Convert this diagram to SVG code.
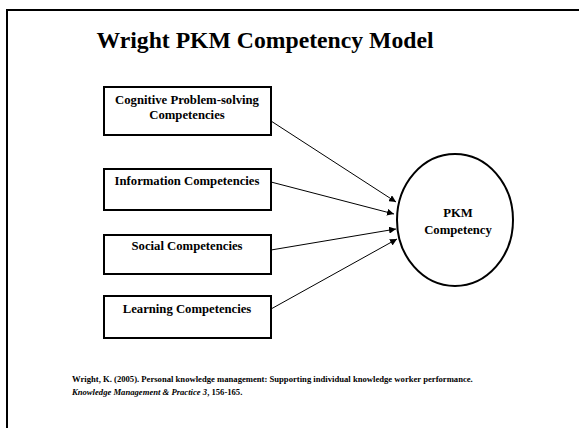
<svg xmlns="http://www.w3.org/2000/svg" width="579" height="428" viewBox="0 0 579 428">
<defs>
<style>
.frame{stroke:#000;stroke-width:2;fill:none}
.box{fill:#fff;stroke:#000;stroke-width:2}
.lbl{font-family:"Liberation Serif",serif;font-weight:bold;font-size:12.7px;fill:#000;text-anchor:middle}
.conn{stroke:#000;stroke-width:1;fill:none;marker-end:url(#ah)}
.ref{font-family:"Liberation Serif",serif;font-weight:bold;font-size:8.65px;fill:#000}
</style>
<marker id="ah" viewBox="0 0 10 10" refX="10" refY="5" markerWidth="7" markerHeight="7" markerUnits="userSpaceOnUse" orient="auto">
<path d="M0,0 L10,5 L0,10 z" fill="#000"/>
</marker>
</defs>
<rect width="579" height="428" fill="#fff"/>
<path class="frame" d="M6,10 H579 M7,10 V428"/>
<text x="265" y="48" font-family="Liberation Serif,serif" font-weight="bold" font-size="23.7" text-anchor="middle">Wright PKM Competency Model</text>
<g id="n1"><rect class="box" x="104" y="87" width="167" height="48"/>
<text class="lbl" x="187" y="104">Cognitive Problem-solving</text>
<text class="lbl" x="187" y="119">Competencies</text></g>
<g id="n2"><rect class="box" x="104" y="169" width="167" height="41"/>
<text class="lbl" x="187" y="185">Information Competencies</text></g>
<g id="n3"><rect class="box" x="104" y="235" width="167" height="39"/>
<text class="lbl" x="187" y="250">Social Competencies</text></g>
<g id="n4"><rect class="box" x="104" y="296" width="167" height="42"/>
<text class="lbl" x="187" y="313">Learning Competencies</text></g>
<g id="n5"><ellipse class="box" cx="455" cy="220" rx="58" ry="66"/>
<text class="lbl" x="458" y="217">PKM</text>
<text class="lbl" x="458" y="234">Competency</text></g>
<g id="connectors">
<line class="conn" x1="271" y1="121" x2="396" y2="202"/>
<line class="conn" x1="271" y1="182" x2="394" y2="214"/>
<line class="conn" x1="271" y1="250" x2="396" y2="229"/>
<line class="conn" x1="271" y1="309" x2="397" y2="239"/>
</g>
<text class="ref" x="72" y="382">Wright, K. (2005). Personal knowledge management: Supporting individual knowledge worker performance.</text>
<text class="ref" x="72" y="395"><tspan font-style="italic">Knowledge Management &amp; Practice 3</tspan>, 156-165.</text>
</svg>
